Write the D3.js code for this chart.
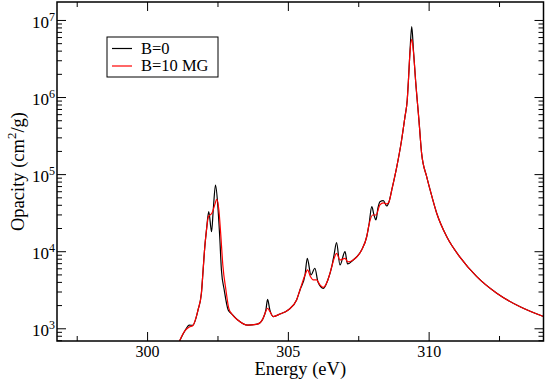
<!DOCTYPE html>
<html>
<head>
<meta charset="utf-8">
<script src="https://cdn.jsdelivr.net/npm/d3@7"></script>
<style>
  body { margin: 0; background: #fff; }
  svg { display: block; font-family: "Liberation Serif", "Times New Roman", serif; }
</style>
</head>
<body>
<svg id="chart" width="545" height="381"></svg>
<script>
// B=0 spectrum
const energyB0 = [301.05, 301.34, 301.50, 301.62, 301.81, 301.93, 301.99, 302.05, 302.11, 302.19,
  302.29, 302.35, 302.43, 302.51, 302.58, 302.64, 302.74, 302.88, 303.01, 303.22,
  303.58, 303.94, 304.11, 304.22, 304.28, 304.36, 304.48, 304.72, 305.01, 305.31,
  305.43, 305.61, 305.69, 305.82, 305.96, 306.07, 306.26, 306.42, 306.56, 306.64,
  306.73, 306.85, 307.03, 307.12, 307.32, 307.62, 307.80, 307.88, 307.98, 308.06,
  308.13, 308.20, 308.27, 308.39, 308.51, 308.59, 308.69, 308.87, 309.04, 309.16,
  309.24, 309.28, 309.34, 309.40, 309.46, 309.54, 309.66, 309.75, 309.93, 310.05,
  310.29, 310.64, 311.12, 311.71, 312.42, 313.25, 314.08];
const opacityB0 = [560, 923, 1100, 1090, 1730, 2870, 5710, 11460, 18900, 32600,
  17900, 34300, 72300, 39800, 15400, 5710, 3140, 1730, 1530, 1280,
  1100, 1140, 1320, 1730, 2380, 1730, 1420, 1530, 1730, 2330,
  3140, 4920, 8090, 4920, 6010, 3990, 3300, 4240, 6300, 8930,
  12900, 6630, 9860, 6830, 7690, 10370, 15400, 21900, 37800, 29500,
  25400, 36400, 43900, 45300, 38600, 43500, 62200, 125000, 277000, 556000,
  916000, 1580000, 4080000, 8190000, 4080000, 1580000, 480000, 187000, 92700, 63000,
  30900, 15500, 8320, 4680, 2850, 1900, 1420];

// B=10 MG spectrum
const energyB10 = [301.05, 301.34, 301.50, 301.62, 301.81, 301.93, 301.99, 302.05, 302.11, 302.18,
  302.30, 302.42, 302.47, 302.55, 302.62, 302.69, 302.80, 302.90, 303.01, 303.22,
  303.58, 303.94, 304.11, 304.20, 304.28, 304.36, 304.48, 304.72, 305.01, 305.31,
  305.43, 305.61, 305.70, 305.80, 305.90, 306.02, 306.14, 306.26, 306.42, 306.56,
  306.64, 306.73, 306.85, 307.03, 307.13, 307.32, 307.62, 307.80, 307.88, 308.01,
  308.13, 308.27, 308.39, 308.51, 308.59, 308.69, 308.87, 309.04, 309.16, 309.24,
  309.28, 309.34, 309.40, 309.46, 309.54, 309.66, 309.75, 309.93, 310.05, 310.29,
  310.64, 311.12, 311.71, 312.42, 313.25, 314.08];
const opacityB10 = [560, 923, 1040, 1080, 1730, 2870, 5710, 11460, 18900, 28100,
  31000, 41800, 47200, 34300, 15800, 6630, 3140, 1830, 1530, 1280,
  1100, 1140, 1320, 1600, 1820, 1650, 1420, 1530, 1730, 2330,
  3140, 4920, 5710, 4700, 4240, 4240, 3650, 3400, 4240, 6300,
  8000, 9400, 7690, 8090, 7250, 7690, 10370, 15400, 21900, 29500,
  29500, 39800, 42300, 41000, 43500, 62200, 125000, 277000, 556000, 916000,
  1580000, 3900000, 5620000, 3900000, 1580000, 480000, 187000, 92700, 63000, 30900,
  15500, 8320, 4680, 2850, 1900, 1420];

const xMajor = [300, 305, 310];
const xMinor = [297.5, 302.5, 307.5, 312.5];
const yMajor = [1e3, 1e4, 1e5, 1e6, 1e7];
const seriesNames = ["B=0", "B=10 MG"];
const seriesColors = ["#000000", "#ff0000"];

const pLeft = 57, pTop = 2, pRight = 543.5, pBottom = 341;

const svg = d3.select("#chart");

const x = d3.scaleLinear().domain([296.8, 314.08]).range([pLeft, pRight]);
const y = d3.scaleLog().domain([684, 1.71e7]).range([pBottom, pTop]);

// minor log ticks 2..9 per decade
const yMinor = [];
for (let p = 2; p <= 7; p++) {
  for (let m = 2; m <= 9; m++) {
    const v = m * Math.pow(10, p);
    if (v > y.domain()[0] && v < y.domain()[1]) yMinor.push(v);
  }
}

svg.append("defs").append("clipPath").attr("id", "plot-clip")
  .append("rect")
  .attr("x", pLeft).attr("y", pTop)
  .attr("width", pRight - pLeft).attr("height", pBottom - pTop);

const line = d3.line()
  .x((d) => x(d[0]))
  .y((d) => y(d[1]))
  .curve(d3.curveMonotoneX);

const series = [
  d3.zip(energyB0, opacityB0),
  d3.zip(energyB10, opacityB10)
];

svg.append("g")
  .attr("clip-path", "url(#plot-clip)")
  .selectAll("path")
  .data(series)
  .join("path")
  .attr("d", line)
  .attr("fill", "none")
  .attr("stroke", (d, i) => seriesColors[i])
  .attr("stroke-width", 1.2);

// axes: ticks point inward on all four sides
const styleAxis = (g) => {
  g.select(".domain").remove();
  g.selectAll(".tick line").attr("stroke", "#000").attr("stroke-width", 1);
};

const addXAxis = (ypos, major, size, labels) => {
  svg.append("g")
    .attr("transform", `translate(0,${ypos})`)
    .call(d3.axisBottom(x).tickValues(major).tickSize(size).tickPadding(5)
      .tickFormat(labels ? d3.format("d") : ""))
    .call(styleAxis)
    .call((g) => g.selectAll("text").attr("fill", "#000")
      .attr("font-size", 16).attr("font-family", "Liberation Serif"));
};
addXAxis(pBottom, xMajor, -9, true);
addXAxis(pBottom, xMinor, -5, false);
addXAxis(pTop, xMajor, 9, false);
addXAxis(pTop, xMinor, 5, false);

const addYAxis = (xpos, vals, size) => {
  svg.append("g")
    .attr("transform", `translate(${xpos},0)`)
    .call(d3.axisLeft(y).tickValues(vals).tickSize(size).tickFormat(""))
    .call(styleAxis);
};
addYAxis(pLeft, yMajor, -9);
addYAxis(pLeft, yMinor, -5);
addYAxis(pRight, yMajor, 9);
addYAxis(pRight, yMinor, 5);

// y tick labels as 10^n
const yLabels = svg.append("g")
  .selectAll("text")
  .data(yMajor)
  .join("text")
  .attr("x", pLeft - 2)
  .attr("y", (d) => y(d))
  .attr("dy", "0.45em")
  .attr("text-anchor", "end")
  .attr("font-size", 17)
  .attr("fill", "#000");
yLabels.append("tspan").text("10");
yLabels.append("tspan")
  .attr("font-size", 12)
  .attr("dy", -7)
  .text((d) => Math.round(Math.log10(d)));

// frame
svg.append("rect")
  .attr("x", pLeft).attr("y", pTop)
  .attr("width", pRight - pLeft).attr("height", pBottom - pTop)
  .attr("fill", "none")
  .attr("stroke", "#000")
  .attr("stroke-width", 1.5);

// axis titles
svg.append("text")
  .attr("x", (pLeft + pRight) / 2)
  .attr("y", 375)
  .attr("text-anchor", "middle")
  .attr("font-size", 18.5)
  .attr("fill", "#000")
  .text("Energy (eV)");

const yTitle = svg.append("text")
  .attr("transform", `translate(24,${(pTop + pBottom) / 2}) rotate(-90)`)
  .attr("text-anchor", "middle")
  .attr("font-size", 18.5)
  .attr("fill", "#000");
yTitle.append("tspan").text("Opacity (cm");
yTitle.append("tspan").attr("font-size", 13).attr("dy", -8).text("2");
yTitle.append("tspan").attr("dy", 8).text("/g)");

// legend
const legend = svg.append("g");
legend.append("rect")
  .attr("x", 107).attr("y", 37)
  .attr("width", 111).attr("height", 40)
  .attr("fill", "#fff")
  .attr("stroke", "#000")
  .attr("stroke-width", 1);

const legendItem = legend.selectAll("g.item")
  .data(seriesNames)
  .join("g")
  .attr("class", "item")
  .attr("transform", (d, i) => `translate(0,${48.5 + i * 17.5})`);
legendItem.append("line")
  .attr("x1", 112).attr("x2", 132)
  .attr("stroke", (d, i) => seriesColors[i])
  .attr("stroke-width", 1.2);
legendItem.append("text")
  .attr("x", 141)
  .attr("dy", "0.33em")
  .attr("font-size", 16.5)
  .attr("fill", "#000")
  .text((d) => d);
</script>
</body>
</html>
